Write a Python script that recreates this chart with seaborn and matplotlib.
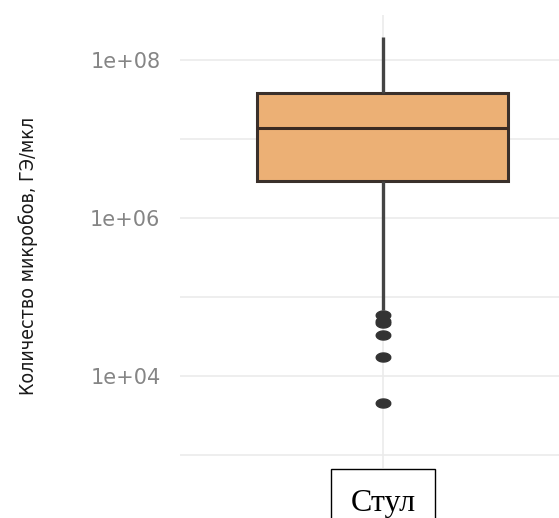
import numpy as np
import pandas as pd
import matplotlib
matplotlib.use("Agg")
import matplotlib.pyplot as plt
import matplotlib.ticker as mticker
import seaborn as sns

# ---- data (log-scale values) ----
category = "Стул"
y_label = "Количество микробов, ГЭ/мкл"
# outliers
outliers = [4.6e3, 1.74e4, 3.3e4, 4.7e4, 5.0e4, 5.9e4]
# non-outlier samples: min whisker, Q1, ..., median, ..., Q3, ..., max
samples = [6.9e4, 2.95e6, 3.6e6, 4.8e6, 6.2e6, 8.0e6, 1.0e7, 1.2e7,
           1.38e7, 1.55e7, 1.8e7, 2.1e7, 2.5e7, 2.9e7, 3.4e7,
           3.8e7, 4.5e7, 5.5e7, 7.0e7, 9.0e7, 1.2e8, 1.5e8, 1.95e8]
values = outliers + samples
tick_values = [1e3, 1e4, 1e5, 1e6, 1e7, 1e8]
tick_labels = ["", "1e+04", "", "1e+06", "", "1e+08"]

df = pd.DataFrame({"group": [category] * len(values), "value": values})

sns.set_style("white")
fig = plt.figure(figsize=(5.59, 5.18), dpi=100)
ax = fig.add_axes([180 / 559, 1 - 468 / 518, 379 / 559, 453 / 518])

t = np.linspace(0, 2 * np.pi, 40)
ellipse = list(zip(np.cos(t), 0.62 * np.sin(t)))

sns.boxplot(data=df, x="group", y="value", ax=ax, log_scale=True,
            color="#ECB075", saturation=1, width=0.8,
            linecolor="#3a302b", linewidth=2.2,
            showcaps=False,
            whiskerprops=dict(color="#444444", linewidth=2.4),
            medianprops=dict(color="#3a2a22", linewidth=2.2),
            flierprops=dict(marker=ellipse, markersize=10.5,
                            markerfacecolor="#333333", markeredgecolor="#333333"))

ax.set_ylim(10 ** 2.836, 10 ** 8.57)
ax.set_xlim(-0.647, 0.561)
ax.yaxis.set_major_locator(mticker.FixedLocator(tick_values))
ax.yaxis.set_major_formatter(mticker.FixedFormatter(tick_labels))
ax.yaxis.set_minor_locator(mticker.NullLocator())

ax.grid(True, axis="both", color="#ebebeb", linewidth=1.2)
ax.set_axisbelow(True)
for s in ax.spines.values():
    s.set_visible(False)

ax.tick_params(axis="y", length=0, pad=14, labelsize=15, labelcolor="#858585")
ax.tick_params(axis="x", length=0, pad=15)
for lab in ax.get_yticklabels():
    lab.set_fontfamily("DejaVu Sans")

ax.set_xlabel("")
for lab in ax.get_xticklabels():
    lab.set_fontfamily(["Liberation Serif", "DejaVu Serif"])
    lab.set_fontsize(23)
    lab.set_color("black")
    lab.set_bbox(dict(boxstyle="square,pad=0.62", fc="white", ec="black", lw=1))

ax.set_ylabel(y_label, fontsize=14, color="#1a1a1a",
              family=["Liberation Sans Narrow", "DejaVu Sans"],
              fontstretch="condensed", va="center")
ax.yaxis.set_label_coords((28 - 180) / 379, (468 - 256) / 453)

fig.savefig("out.png", dpi=100)
